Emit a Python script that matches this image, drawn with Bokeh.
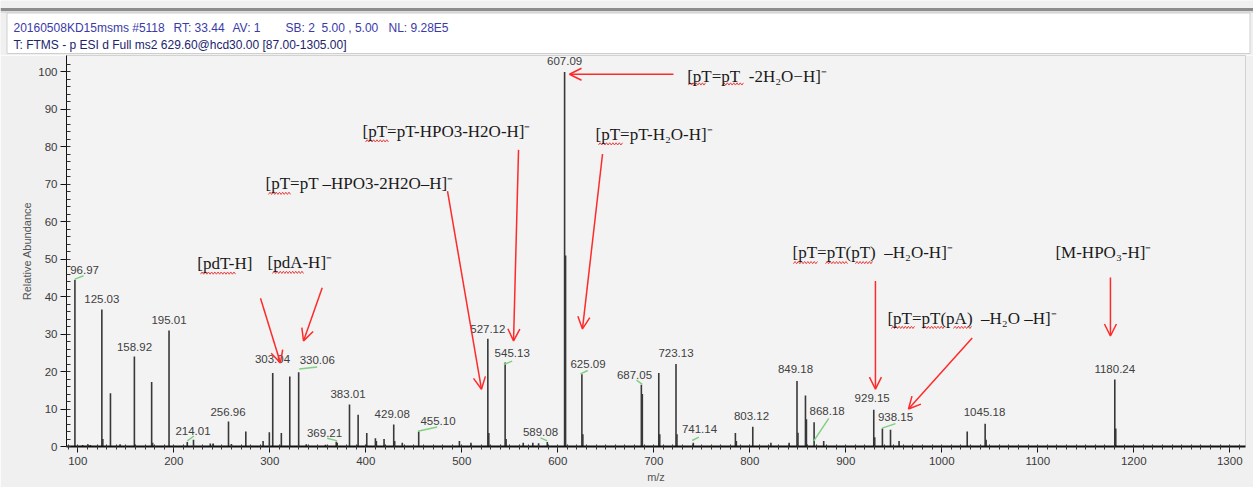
from bokeh.plotting import figure
from bokeh.models import Range1d, ColumnDataSource, Arrow, OpenHead, FixedTicker
from bokeh.layouts import column, row
from bokeh.embed import file_html
from bokeh.resources import INLINE
from bokeh.core.properties import value

# ---------------- data ----------------
header_parts = ["20160508KD15msms #5118", "RT: 33.44", "AV: 1", "SB: 2\u00a0\u00a05.00 , 5.00", "NL: 9.28E5",
                "T: FTMS - p ESI d Full ms2 629.60@hcd30.00 [87.00-1305.00]"]
header_parts_x = [13, 173, 232, 285, 388, 13]
header_parts_y = [27, 27, 27, 27, 27, 44]
header_colors = ["#3a3aa8"] * 5 + ["#20246e"]

peak_mz = [96.97, 105.0, 110.5, 113.0, 125.03, 126.03, 134.0, 144.0, 158.92, 176.9, 177.9,
           195.01, 214.01, 220.5, 238.0, 241.0, 256.96, 260.0, 275.0, 293.0, 299.5, 303.04,
           312.0, 320.8, 330.06, 338.0, 358.0, 369.21, 370.2, 383.01, 392.0, 401.0, 410.0,
           411.0, 419.0, 429.08, 430.08, 438.0, 455.10, 497.5, 509.5, 527.12, 528.12, 545.13,
           546.13, 564.0, 574.0, 580.0, 589.08, 607.09, 608.09, 625.09, 626.09, 687.05, 688.05,
           705.2, 706.2, 723.13, 724.13, 741.14, 785.0, 786.0, 803.12, 822.0, 841.0, 849.18,
           850.18, 858.0, 859.0, 867.0, 877.0, 929.15, 930.15, 938.15, 946.6, 955.5, 1026.5,
           1045.18, 1046.18, 1180.24, 1181.24]
peak_int = [44.5, 0.4, 0.6, 0.4, 36.6, 2.0, 14.2, 0.6, 24.0, 17.2, 1.0,
            31.0, 1.2, 1.8, 0.8, 0.8, 6.7, 0.7, 4.0, 1.5, 3.8, 19.6,
            3.6, 18.7, 19.8, 0.6, 0.5, 1.3, 1.0, 11.2, 8.5, 3.6, 2.2,
            1.5, 2.0, 5.9, 1.5, 1.0, 4.0, 1.5, 1.0, 28.8, 3.6, 22.4,
            2.0, 1.0, 1.0, 0.9, 1.2, 100.0, 51.0, 19.3, 3.3, 16.5, 14.0,
            19.6, 3.3, 22.0, 3.3, 1.0, 3.6, 1.5, 5.3, 1.0, 1.0, 17.5,
            3.7, 13.6, 7.3, 6.5, 1.5, 9.8, 2.5, 4.8, 4.5, 1.5, 4.0,
            6.1, 1.8, 17.9, 4.8]

label_text = ["96.97", "125.03", "158.92", "195.01", "214.01", "256.96", "303.04", "330.06",
              "369.21", "383.01", "429.08", "455.10", "527.12", "545.13", "589.08", "607.09",
              "625.09", "687.05", "723.13", "741.14", "803.12", "849.18", "868.18", "929.15",
              "938.15", "1045.18", "1180.24"]
label_x = [107.0, 125.0, 159.0, 195.0, 220.0, 256.5, 302.8, 349.4,
           357.0, 381.5, 427.5, 475.2, 527.1, 552.5, 582.0, 607.1,
           631.5, 679.9, 723.1, 747.6, 801.8, 847.6, 880.6, 927.5,
           951.8, 1044.5, 1180.2]
label_y = [47.1, 39.3, 26.7, 33.7, 4.1, 9.3, 23.4, 23.1,
           3.7, 13.9, 8.8, 6.8, 31.5, 25.0, 4.0, 102.8,
           22.1, 19.1, 25.0, 4.7, 8.1, 20.6, 9.5, 13.0,
           7.9, 9.2, 20.7]

# green leader strokes (label -> peak)
lead_x0 = [97.0, 214.0, 330.6, 359.8, 454.2, 543.8, 582.0, 623.6, 682.0, 740.0, 866.7, 937.9]
lead_y0 = [44.7, 1.5, 20.7, 2.2, 4.1, 21.9, 2.3, 19.4, 17.7, 1.6, 1.5, 4.9]
lead_x1 = [106.0, 221.0, 349.3, 370.2, 474.4, 552.5, 589.0, 631.2, 688.0, 747.0, 882.3, 951.8]
lead_y1 = [45.6, 2.8, 21.2, 1.5, 5.2, 22.8, 1.5, 20.3, 16.6, 2.5, 7.5, 6.1]

# fragment annotations
ann_text = ["[pT=pT\u00a0\u00a0-2H\u2082O\u2212H]\u207b",
            "[pT=pT-HPO3-H2O-H]\u207b",
            "[pT=pT-H\u2082O-H]\u207b",
            "[pT=pT \u2013HPO3-2H2O\u2013H]\u207b",
            "[pdT-H]",
            "[pdA-H]\u207b",
            "[pT=pT(pT)\u00a0\u00a0\u2013H\u2082O-H]\u207b",
            "[pT=pT(pA)\u00a0\u00a0\u2013H\u2082O \u2013H]\u207b",
            "[M-HPO\u2083-H]\u207b"]
ann_x = [734.8, 396.6, 639.3, 295.5, 224.4, 297.6, 844.5, 943.4, 1118.4]
ann_y = [98.9, 84.2, 83.4, 70.1, 48.8, 49.0, 51.7, 34.3, 51.7]

arr_x0 = [720.5, 559.1, 646.6, 485.1, 290.3, 354.6, 930.9, 1031.7, 1175.7]
arr_y0 = [99.4, 79.2, 78.1, 68.2, 39.6, 42.4, 44.2, 29.0, 45.1]
arr_x1 = [612.2, 553.9, 625.7, 520.5, 311.1, 335.1, 930.9, 965.3, 1175.7]
arr_y1 = [99.4, 28.2, 31.4, 15.3, 22.3, 28.2, 15.3, 10.0, 29.5]

# red spell-check squiggles under words (start, end, level)
wavy_x0 = [736.1, 771.6, 399.7, 642.4, 298.6, 227.8, 302.8, 845.5, 878.9, 910.1, 947.6, 981.0, 1012.2]
wavy_x1 = [753.9, 793.4, 423.6, 667.4, 321.6, 264.3, 335.1, 870.5, 901.8, 927.8, 971.6, 1002.8, 1031.0]
wavy_y = [96.8, 96.8, 81.6, 80.8, 67.6, 46.3, 46.5, 49.1, 49.1, 49.1, 31.8, 31.8, 31.8]

x_ticks = [100, 200, 300, 400, 500, 600, 700, 800, 900, 1000, 1100, 1200, 1300]
y_ticks = [0, 10, 20, 30, 40, 50, 60, 70, 80, 90, 100]

W = 1253

# ---------------- header strip (pixel coordinates) ----------------
hdr = figure(width=W, height=55, x_range=Range1d(0, W), y_range=Range1d(55, 0),
             output_backend="svg", toolbar_location=None,
             x_axis_location=None, y_axis_location=None, min_border=0)
hdr.grid.visible = False
hdr.outline_line_color = None
hdr.background_fill_color = "#f0f0f0"
hdr.border_fill_color = "#f0f0f0"
hdr.quad(left=[0], right=[W], top=[7.5], bottom=[10.5], fill_color="#8c8c8c", line_color=None)
hdr.quad(left=[0], right=[W], top=[10.5], bottom=[12.5], fill_color="#dcdcdc", line_color=None)
hdr.quad(left=[6.5], right=[1249.5], top=[12.5], bottom=[53], fill_color="white", line_color="#cfcfcf")
hdr.text(x=header_parts_x, y=header_parts_y, text=header_parts, text_color=header_colors,
         text_font=value("Liberation Sans"), text_font_size="12px",
         text_baseline="middle", text_align="left")

# ---------------- main plot ----------------
p = figure(width=W, height=432, x_range=Range1d(88.2, 1316.4), y_range=Range1d(0, 104.4),
           output_backend="svg", toolbar_location=None,
           min_border_left=66, min_border_right=8, min_border_top=0, min_border_bottom=41)
p.background_fill_color = "#f3f3f3"
p.border_fill_color = "#f0f0f0"
p.outline_line_color = "#d2d2d2"
p.grid.visible = False

p.xaxis.ticker = FixedTicker(ticks=x_ticks, minor_ticks=list(range(90, 1320, 10)))
p.yaxis.ticker = FixedTicker(ticks=y_ticks, minor_ticks=list(range(0, 104, 2)))
for ax in (p.xaxis[0], p.yaxis[0]):
    ax.axis_line_color = "#111111"
    ax.major_tick_line_color = "#111111"
    ax.minor_tick_line_color = "#333333"
    ax.major_label_text_font = "Liberation Sans"
    ax.major_label_text_font_size = "11.5px"
    ax.major_label_text_color = "#3a3a3a"
    ax.axis_label_text_font = "Liberation Sans"
    ax.axis_label_text_font_size = "11px"
    ax.axis_label_text_font_style = "normal"
    ax.axis_label_text_color = "#555555"
p.xaxis.axis_line_width = 2
p.xaxis.major_tick_out = 6
p.xaxis.major_tick_in = 0
p.xaxis.minor_tick_out = 3
p.xaxis.minor_tick_in = 2
p.xaxis.major_label_standoff = 4
p.xaxis.axis_label = "m/z"
p.xaxis.axis_label_standoff = 3
p.yaxis.major_tick_out = 6
p.yaxis.major_tick_in = 0
p.yaxis.minor_tick_out = 0
p.yaxis.minor_tick_in = 4
p.yaxis.major_label_standoff = 3
p.yaxis.axis_label = "Relative Abundance"
p.yaxis.axis_label_standoff = 2

peaks = ColumnDataSource(dict(mz=peak_mz, h=peak_int, z=[0] * len(peak_mz)))
p.segment(x0="mz", y0="z", x1="mz", y1="h", source=peaks, line_color="#383838", line_width=1.6)

p.segment(x0=lead_x0, y0=lead_y0, x1=lead_x1, y1=lead_y1, line_color="#7fd07f", line_width=1.5)

labels = ColumnDataSource(dict(x=label_x, y=label_y, t=label_text))
p.text(x="x", y="y", text="t", source=labels, text_align="center", text_baseline="middle",
       text_font=value("Liberation Sans"), text_font_size="11.5px", text_color="#404040")

for x0, y0, x1, y1 in zip(arr_x0, arr_y0, arr_x1, arr_y1):
    p.add_layout(Arrow(x_start=x0, y_start=y0, x_end=x1, y_end=y1,
                       line_color="#ff2a2a", line_width=1.5,
                       end=OpenHead(size=12, line_color="#ff2a2a", line_width=1.5)))

# squiggly underlines (zigzag with ~1.6 m/z step, small amplitude)
xs, ys = [], []
for a, b, yy in zip(wavy_x0, wavy_x1, wavy_y):
    n = max(2, int((b - a) / 1.6))
    step = (b - a) / n
    xs.append([a + i * step for i in range(n + 1)])
    ys.append([yy + (0.3 if i % 2 else -0.3) for i in range(n + 1)])
p.multi_line(xs=xs, ys=ys, line_color="#e84040", line_width=1)

ann = ColumnDataSource(dict(x=ann_x, y=ann_y, t=ann_text))
p.text(x="x", y="y", text="t", source=ann, text_align="left", text_baseline="middle",
       text_font=value("Liberation Serif"), text_font_size="17px", text_color="#1a1a1a")

# ---------------- footer strip ----------------
ftr = figure(width=W, height=2, x_range=Range1d(0, 1), y_range=Range1d(0, 1),
             output_backend="svg", toolbar_location=None,
             x_axis_location=None, y_axis_location=None, min_border=0)
ftr.grid.visible = False
ftr.outline_line_color = None
ftr.background_fill_color = "#a9bcd0"
ftr.border_fill_color = "#a9bcd0"

layout = column(row(hdr, spacing=0), row(p, spacing=0), row(ftr, spacing=0), spacing=0)
open("out.html", "w").write(file_html(layout, INLINE))
